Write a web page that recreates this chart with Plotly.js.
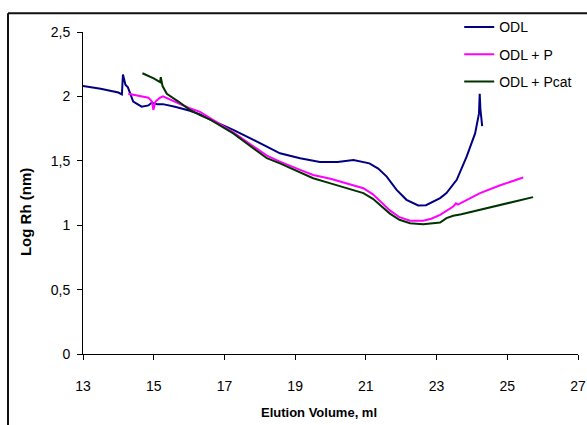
<!DOCTYPE html>
<html>
<head>
<meta charset="utf-8">
<script src="https://cdn.plot.ly/plotly-3.0.1.min.js"></script>
<style>
html,body{margin:0;padding:0;background:#fff;}
#chart{width:587px;height:425px;}
</style>
</head>
<body>
<div id="chart"></div>
<script>
var seriesNames = ["ODL", "ODL + P", "ODL + Pcat"];

var odlX = [13.0, 13.5, 14.0, 14.1, 14.13, 14.2, 14.27, 14.42, 14.66, 14.85, 14.94, 15.1, 15.26, 15.6, 16.0, 16.31, 16.6, 17.25, 18.2, 18.57, 19.14, 19.7, 20.2, 20.65, 21.1, 21.35, 21.59, 21.87, 22.15, 22.48, 22.7, 22.9, 23.1, 23.28, 23.57, 23.85, 24.09, 24.2, 24.22, 24.24, 24.26, 24.29];
var odlY = [2.08, 2.06, 2.03, 2.015, 2.17, 2.09, 2.07, 1.96, 1.92, 1.93, 1.95, 1.94, 1.94, 1.92, 1.89, 1.86, 1.82, 1.74, 1.61, 1.558, 1.52, 1.49, 1.49, 1.507, 1.48, 1.44, 1.377, 1.274, 1.197, 1.153, 1.155, 1.184, 1.21, 1.249, 1.352, 1.532, 1.713, 1.868, 2.02, 1.9, 1.83, 1.77];

var pX = [14.28, 14.6, 14.85, 14.95, 14.99, 15.05, 15.18, 15.26, 15.6, 16.0, 16.31, 16.6, 17.25, 18.2, 18.57, 19.14, 19.51, 20.0, 20.46, 20.93, 21.2, 21.4, 21.68, 21.95, 22.25, 22.62, 22.85, 23.1, 23.47, 23.55, 23.6, 24.23, 24.8, 25.45];
var pY = [2.02, 2.0, 1.99, 1.96, 1.895, 1.96, 1.99, 2.0, 1.96, 1.91, 1.88, 1.83, 1.72, 1.54, 1.494, 1.43, 1.39, 1.36, 1.326, 1.287, 1.24, 1.185, 1.115, 1.062, 1.035, 1.034, 1.05, 1.08, 1.145, 1.17, 1.16, 1.249, 1.31, 1.37];

var pcatX = [14.68, 15.0, 15.18, 15.2, 15.25, 15.37, 15.7, 16.0, 16.31, 16.6, 17.25, 18.2, 18.57, 19.14, 19.51, 20.0, 20.46, 20.93, 21.2, 21.4, 21.68, 21.95, 22.25, 22.62, 23.1, 23.28, 23.47, 23.7, 24.23, 25.0, 25.73];
var pcatY = [2.18, 2.14, 2.11, 2.15, 2.08, 2.02, 1.96, 1.9, 1.855, 1.82, 1.713, 1.52, 1.48, 1.41, 1.365, 1.325, 1.287, 1.249, 1.205, 1.155, 1.09, 1.042, 1.016, 1.008, 1.02, 1.055, 1.073, 1.085, 1.119, 1.17, 1.218];

var colors = ["#000080", "#FF00FF", "#003300"];
var xs = [odlX, pX, pcatX];
var ys = [odlY, pY, pcatY];

var traces = seriesNames.map(function(n, i){
  return {x: xs[i], y: ys[i], name: n, type: "scatter", mode: "lines",
          legendgroup: "g" + i,
          line: {color: colors[i], width: 2}};
});

var fontFam = "Liberation Sans, Arial, sans-serif";
var layout = {
  width: 587, height: 425,
  margin: {l: 83, r: 9, t: 32, b: 71},
  paper_bgcolor: "#fff", plot_bgcolor: "#fff",
  separators: ",.",
  font: {family: fontFam, size: 14, color: "#000"},
  showlegend: true,
  legend: {x: 0.76, y: 1.064, xanchor: "left", yanchor: "top",
           bgcolor: "rgba(0,0,0,0)", borderwidth: 0,
           traceorder: "grouped", tracegroupgap: 6,
           font: {family: fontFam, size: 14, color: "#000"}},
  xaxis: {range: [13, 27], tick0: 13, dtick: 2, showgrid: false, zeroline: false,
          showline: true, linecolor: "#000", linewidth: 1,
          ticks: "outside", ticklen: 5, tickcolor: "#000",
          ticklabelstandoff: 14,
          tickfont: {family: fontFam, size: 14}},
  yaxis: {range: [0, 2.5], dtick: 0.5, showgrid: false, zeroline: false,
          showline: true, linecolor: "#000", linewidth: 1,
          ticks: "outside", ticklen: 5, tickcolor: "#000",
          ticklabelstandoff: 4,
          tickfont: {family: fontFam, size: 14}},
  annotations: [
    {text: "<b>Elution Volume, ml</b>", xref: "paper", yref: "paper",
     x: 0.477, y: -0.181, xanchor: "center", yanchor: "middle", showarrow: false,
     font: {family: fontFam, size: 13, color: "#000"}},
    {text: "<b>Log Rh (nm)</b>", xref: "paper", yref: "paper", textangle: -90,
     x: -0.115, y: 0.441, xanchor: "center", yanchor: "middle", showarrow: false,
     font: {family: fontFam, size: 15, color: "#000"}}
  ],
  shapes: [
    {type: "line", xref: "paper", yref: "paper", x0: -0.1515, x1: -0.1515, y0: 1.058, y1: -0.4,
     line: {color: "#111", width: 2}},
    {type: "line", xref: "paper", yref: "paper", x0: -0.1515, x1: 1.1, y0: 1.058, y1: 1.058,
     line: {color: "#111", width: 2}}
  ]
};

Plotly.newPlot("chart", traces, layout, {displayModeBar: false, staticPlot: true});
</script>
</body>
</html>
